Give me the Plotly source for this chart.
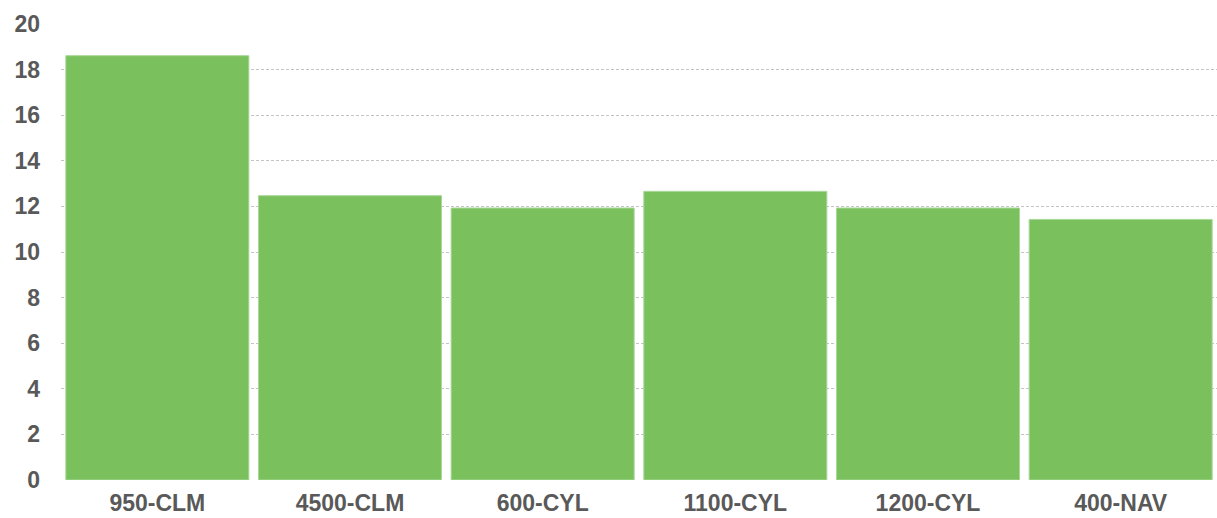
import plotly.graph_objects as go

categories = ["950-CLM", "4500-CLM", "600-CYL", "1100-CYL", "1200-CYL", "400-NAV"]
values = [18.61, 12.47, 11.93, 12.66, 11.93, 11.43]
y_ticks = [0, 2, 4, 6, 8, 10, 12, 14, 16, 18, 20]

fig = go.Figure(
    go.Bar(
        x=categories,
        y=values,
        marker=dict(color="#7AC05C", line=dict(color="#A9D89A", width=1)),
    )
)

fig.update_layout(
    width=1217,
    height=518,
    margin=dict(l=61, r=0, t=24, b=38),
    paper_bgcolor="white",
    plot_bgcolor="white",
    bargap=0.05,
    showlegend=False,
    font=dict(family="Liberation Sans, Arial, sans-serif", size=23, color="#595959"),
)
fig.update_xaxes(
    showgrid=False,
    showline=False,
    ticks="",
    automargin=False,
    ticklabelstandoff=7,
    tickfont=dict(size=23, color="#595959", weight="bold"),
)
fig.update_yaxes(
    range=[0, 20],
    tickvals=y_ticks,
    showgrid=True,
    gridcolor="#C4C4C4",
    griddash="3px,2px",
    gridwidth=1,
    zeroline=False,
    showline=False,
    ticks="",
    automargin=False,
    ticklabelstandoff=20,
    tickfont=dict(size=23, color="#595959", weight="bold"),
)

fig.write_html(
    "out.html",
    config={"displayModeBar": False},
    post_script="document.body.style.margin='0';document.body.style.overflow='hidden';",
)
